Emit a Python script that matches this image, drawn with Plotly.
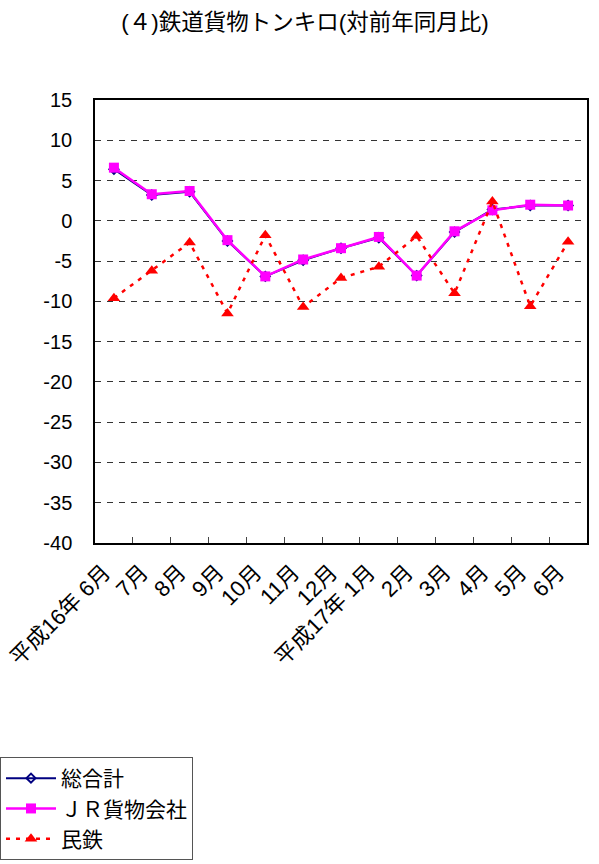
import plotly.graph_objects as go

categories = ["平成16年 6月", "7月", "8月", "9月", "10月", "11月", "12月",
              "平成17年 1月", "2月", "3月", "4月", "5月", "6月"]
total = [6.4, 3.2, 3.6, -2.5, -6.9, -4.9, -3.4, -2.1, -6.8, -1.4, 1.4, 1.9, 1.9]
jr = [6.6, 3.3, 3.7, -2.4, -6.9, -4.8, -3.4, -2.0, -6.8, -1.3, 1.3, 2.0, 1.9]
private = [-9.6, -6.2, -2.7, -11.5, -1.8, -10.7, -7.1, -5.7, -1.9, -9.0, 2.4, -10.6, -2.6]
y_ticks = list(range(-40, 16, 5))

FONT = "Liberation Sans, Noto Sans CJK JP, sans-serif"

fig = go.Figure()
fig.add_trace(go.Scatter(
    x=categories, y=total, name="総合計", mode="lines+markers",
    line=dict(color="#000080", width=2),
    marker=dict(symbol="diamond-open", size=7, color="#000080", line=dict(width=2, color="#000080")),
))
fig.add_trace(go.Scatter(
    x=categories, y=jr, name="ＪＲ貨物会社", mode="lines+markers",
    line=dict(color="#FF00FF", width=2.5),
    marker=dict(symbol="square", size=10, color="#FF00FF"),
))
fig.add_trace(go.Scatter(
    x=categories, y=private, name="民鉄", mode="lines+markers",
    line=dict(color="#FF0000", width=2.5, dash="4px,6px"),
    marker=dict(symbol="triangle-up", size=11, color="#FF0000"),
))

fig.update_layout(
    width=599, height=864,
    margin=dict(l=95, r=12, t=100, b=321, autoexpand=False),
    paper_bgcolor="white", plot_bgcolor="white",
    font=dict(family=FONT, size=20, color="black"),
    title=dict(text="(４)鉄道貨物トンキロ(対前年同月比)", x=305 / 599, xanchor="center",
               y=1 - 22 / 864, yanchor="middle", font=dict(size=22.5)),
    showlegend=True,
    legend=dict(xref="container", yref="container", x=0.0, xanchor="left",
                y=1 - 757 / 864, yanchor="top",
                bordercolor="#555555", borderwidth=1, bgcolor="white",
                font=dict(size=21), tracegroupgap=0, itemwidth=50),
    xaxis=dict(
        type="category", tickangle=-45, showgrid=False, automargin=False,
        showline=True, linecolor="black", linewidth=1.5, mirror=True,
        ticks="inside", ticklen=6, tickcolor="#444", tickson="boundaries",
        tickfont=dict(size=22), range=[-0.5, 12.5],
        ticklabelshift=-10, ticklabelstandoff=6,
    ),
    yaxis=dict(
        range=[-40, 15], tickvals=y_ticks, ticktext=[str(v) for v in y_ticks],
        showgrid=True, gridcolor="#333333", griddash="6px,6px", gridwidth=1,
        showline=True, linecolor="black", linewidth=1.5, mirror=True,
        zeroline=False, ticks="", tickfont=dict(size=20), automargin=False,
        ticklabelstandoff=17,
    ),
)
fig.write_html("out.html", config={"displayModeBar": False},
               post_script="document.body.style.margin='0';document.body.style.overflow='hidden';")
